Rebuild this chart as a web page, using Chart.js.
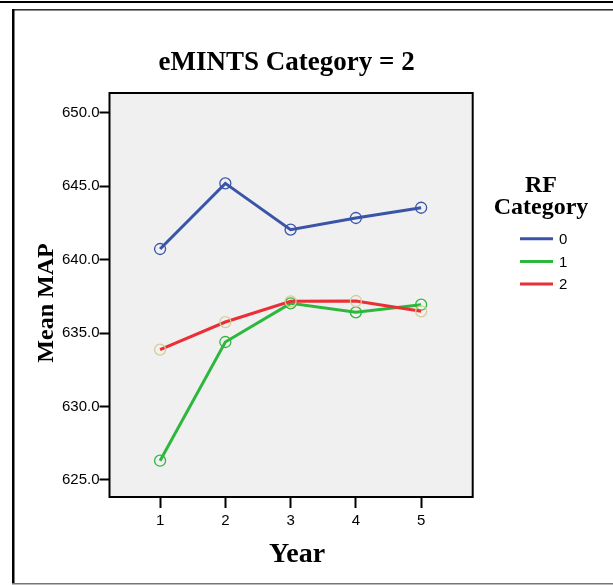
<!DOCTYPE html>
<html>
<head>
<meta charset="utf-8">
<script src="https://cdn.jsdelivr.net/npm/chart.js@4.4.1/dist/chart.umd.min.js"></script>
<style>
  html, body { margin: 0; padding: 0; background: #fff; }
  canvas { display: block; }
</style>
</head>
<body>
<canvas id="c" width="613" height="585"></canvas>
<script>
// ---- data ----
const years = [1, 2, 3, 4, 5];
const rf0 = [640.72, 645.19, 642.04, 642.83, 643.53];
const rf1 = [626.31, 634.39, 637.02, 636.41, 636.93];
const rf2 = [633.87, 635.75, 637.16, 637.18, 636.48];
const yTicks = [625, 630, 635, 640, 645, 650];
const seriesNames = ['0', '1', '2'];
const chartTitle = 'eMINTS Category = 2';
const xTitle = 'Year';
const yTitle = 'Mean MAP';
const legendTitle = ['RF', 'Category'];

const lineColors = ['#3a55a8', '#2db83d', '#ea2f37'];
const markerColors = ['#3a55a8', '#2db83d', '#d6cc96'];
const seriesValues = [rf0, rf1, rf2];

const SERIF = '"Liberation Serif", "Times New Roman", serif';
const SANS = '"Liberation Sans", Arial, sans-serif';

function shiftDraw(obj, method, dx, dy) {
  if (!obj || obj['_shift_' + method]) return;
  const orig = obj[method];
  obj[method] = function (...args) {
    const c = this.ctx;
    c.save();
    c.translate(dx, dy);
    const r = orig.apply(this, args);
    c.restore();
    return r;
  };
  obj['_shift_' + method] = true;
}

const framePlugin = {
  id: 'frame',
  afterLayout(chart) {
    shiftDraw(chart.titleBlock, 'draw', -4.5, 1.5);
    shiftDraw(chart.scales.x, 'drawTitle', 6, 0);
    shiftDraw(chart.scales.y, 'drawTitle', 0, 8);
  },
  beforeDraw(chart) {
    const ctx = chart.ctx, a = chart.chartArea;
    ctx.save();
    ctx.fillStyle = '#fff';
    ctx.fillRect(0, 0, chart.width, chart.height);
    // outer frame lines
    ctx.fillStyle = '#000';
    ctx.fillRect(0, 1, chart.width, 2);
    ctx.fillStyle = '#333';
    ctx.fillRect(12, 9, chart.width - 12, 1);
    ctx.fillStyle = '#888';
    ctx.fillRect(12, 10, chart.width - 12, 1);
    ctx.fillStyle = '#000';
    ctx.fillRect(12, 9, 2.5, 575);
    ctx.fillStyle = '#777';
    ctx.fillRect(12, 583, chart.width - 12, 1.5);
    // plot background
    ctx.fillStyle = '#f0f0f0';
    ctx.fillRect(a.left, a.top, a.right - a.left, a.bottom - a.top);
    ctx.restore();
  },
  afterDraw(chart) {
    const ctx = chart.ctx, a = chart.chartArea;
    ctx.save();
    ctx.strokeStyle = '#000';
    ctx.lineWidth = 2;
    ctx.strokeRect(a.left, a.top, a.right - a.left, a.bottom - a.top);
    // legend
    ctx.fillStyle = '#000';
    ctx.font = 'bold 24px ' + SERIF;
    ctx.textAlign = 'center';
    ctx.textBaseline = 'alphabetic';
    ctx.fillText(legendTitle[0], 541, 192);
    ctx.fillText(legendTitle[1], 541, 214);
    chart.data.datasets.forEach((ds, i) => {
      const y = 238.7 + i * 22.7;
      ctx.strokeStyle = ds.borderColor;
      ctx.lineWidth = 3;
      ctx.beginPath();
      ctx.moveTo(520, y);
      ctx.lineTo(553, y);
      ctx.stroke();
      ctx.fillStyle = '#000';
      ctx.font = '15px ' + SANS;
      ctx.textAlign = 'left';
      ctx.textBaseline = 'middle';
      ctx.fillText(ds.label, 559, y + 1);
    });
    ctx.restore();
  }
};

const datasets = seriesValues.map((vals, i) => ({
  label: seriesNames[i],
  data: years.map((yr, j) => ({ x: yr, y: vals[j] })),
  borderColor: lineColors[i],
  borderWidth: 3,
  pointStyle: 'circle',
  pointRadius: 5.5,
  pointBorderWidth: 1.3,
  pointBorderColor: markerColors[i],
  pointBackgroundColor: 'rgba(0,0,0,0)',
  fill: false,
  tension: 0,
  order: 2 - i
}));

new Chart(document.getElementById('c'), {
  type: 'line',
  data: { datasets },
  plugins: [framePlugin],
  options: {
    responsive: false,
    animation: false,
    devicePixelRatio: 1,
    layout: { padding: { left: 0, right: 140.3, top: 0, bottom: 0 } },
    plugins: {
      legend: { display: false },
      tooltip: { enabled: false },
      title: {
        display: true,
        text: chartTitle,
        fullSize: false,
        color: '#000',
        font: { family: SERIF, size: 27, weight: 'bold', lineHeight: 1.2 },
        padding: { top: 45.8, bottom: 14.8 }
      }
    },
    scales: {
      x: {
        type: 'linear',
        min: 0.225,
        max: 5.79,
        afterBuildTicks: s => { s.ticks = years.map(v => ({ value: v })); },
        afterFit: s => { s.height = 88; },
        border: { display: false },
        grid: { drawOnChartArea: false, drawTicks: true, tickLength: 11, tickWidth: 2, tickColor: '#000' },
        ticks: { color: '#000', padding: 4, font: { family: SANS, size: 15 }, callback: v => String(v) },
        title: {
          display: true, text: xTitle, color: '#000',
          font: { family: SERIF, size: 28, weight: 'bold', lineHeight: 1.2 },
          padding: { top: 0, bottom: 13.5 }
        }
      },
      y: {
        type: 'linear',
        min: 623.84,
        max: 651.34,
        afterBuildTicks: s => { s.ticks = yTicks.map(v => ({ value: v })); },
        afterFit: s => { s.width = 109.5; },
        border: { display: false },
        grid: { drawOnChartArea: false, drawTicks: true, tickLength: 10, tickWidth: 2, tickColor: '#000' },
        ticks: { color: '#000', padding: 0, font: { family: SANS, size: 15 }, callback: v => Number(v).toFixed(1) },
        title: {
          display: true, text: yTitle, color: '#000',
          font: { family: SERIF, size: 24, weight: 'bold', lineHeight: 1.2 },
          padding: { top: 32, bottom: 0 }
        }
      }
    }
  }
});
</script>
</body>
</html>
